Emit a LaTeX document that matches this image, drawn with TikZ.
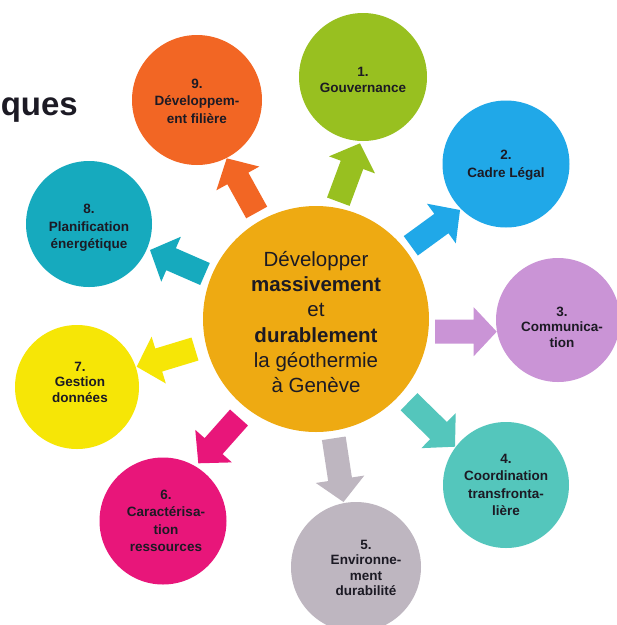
\documentclass[tikz,border=0pt]{standalone}
\usepackage{fontspec}
\setmainfont{Liberation Sans}
\usetikzlibrary{calc}
\definecolor{cOrange}{RGB}{242,102,36}
\definecolor{cGreen}{RGB}{152,192,32}
\definecolor{cBlue}{RGB}{32,168,232}
\definecolor{cPurple}{RGB}{202,148,214}
\definecolor{cTeal}{RGB}{84,198,188}
\definecolor{cGray}{RGB}{190,182,192}
\definecolor{cPink}{RGB}{232,22,122}
\definecolor{cYellow}{RGB}{246,230,6}
\definecolor{cCyan}{RGB}{22,170,190}
\definecolor{cCenter}{RGB}{238,170,18}
\definecolor{txt}{RGB}{28,26,36}
\def\sw{12pt}
\def\hw{24.5pt}
\def\hl{23pt}
\newcommand\blockarrow[3]{%
  \fill[#1] ($(#2)!\sw!90:(#3)$) -- ($(#3)!\hl!(#2)!\sw!-90:(#2)$) --
    ($(#3)!\hl!(#2)!\hw!-90:(#2)$) -- (#3) --
    ($(#3)!\hl!(#2)!\hw!90:(#2)$) -- ($(#3)!\hl!(#2)!\sw!90:(#2)$) --
    ($(#2)!\sw!-90:(#3)$) -- cycle;}
\begin{document}
\begin{tikzpicture}[x=1pt,y=-1pt,
  disc/.style={circle, draw=none, inner sep=0pt, minimum size=#1},
  lab/.style={align=center, text=txt, inner sep=0pt,
    font=\bfseries\fontsize{13.5}{15.5}\selectfont},
  widelab/.style={lab, font=\bfseries\fontsize{13.5}{17.5}\selectfont},
  centerlab/.style={align=center, text=txt, inner sep=0pt,
    font=\fontsize{20.5}{25.3}\selectfont}]
\useasboundingbox (0,0) rectangle (617,625);
\clip (0,0) rectangle (617,625);
\fill[white] (0,0) rectangle (617,625);

% title fragment
\node[anchor=base east, inner sep=0pt, text=txt,
  font=\bfseries\fontsize{33}{36}\selectfont] (title) at (78,115) {ques};

% circles
\node[disc=226pt, fill=cCenter] (c0) at (316,319) {};
\node[disc=130pt, fill=cOrange] (c9) at (197,100) {};
\node[disc=128pt, fill=cGreen] (c1) at (363,77) {};
\node[disc=127pt, fill=cBlue] (c2) at (506,164) {};
\node[disc=124pt, fill=cPurple] (c3) at (558,320) {};
\node[disc=126pt, fill=cTeal] (c4) at (506,485) {};
\node[disc=130pt, fill=cGray] (c5) at (356,567) {};
\node[disc=127pt, fill=cPink] (c6) at (163,521) {};
\node[disc=124pt, fill=cYellow] (c7) at (77,387) {};
\node[disc=126pt, fill=cCyan] (c8) at (89,224) {};

% labels
\node[centerlab] (l0) at (316,322) {Développer\\\textbf{massivement}\\et\\\textbf{durablement}\\la géothermie\\à Genève};
\node[widelab] (l9) at (197,101) {9.\\Développem-\\ent filière};
\node[lab] (l1) at (363,80) {1.\\Gouvernance};
\node[widelab] (l2) at (506,165) {2.\\Cadre Légal};
\node[lab] (l3) at (562,327) {3.\\Communica-\\tion};
\node[widelab] (l4) at (506,485) {4.\\Coordination\\transfronta-\\lière};
\node[lab] (l5) at (366,568) {5.\\Environne-\\ment\\durabilité};
\node[widelab] (l6) at (166,521) {6.\\Caractérisa-\\tion\\ressources};
\node[lab] (l7) at (80,382) {7.\\Gestion\\données};
\node[widelab] (l8) at (89,228) {8.\\Planification\\énergétique};

% arrow end points
\coordinate (t9) at (256.7,212.5); \coordinate (p9) at (226.7,158.3);
\coordinate (t1) at (338.3,201.7); \coordinate (p1) at (360,143.3);
\coordinate (t2) at (410.8,245.8); \coordinate (p2) at (460,210);
\coordinate (t3) at (435,331.7);   \coordinate (p3) at (496.7,331.7);
\coordinate (t4) at (409,401.7);   \coordinate (p4) at (455,446.7);
\coordinate (t5) at (333.8,438.3); \coordinate (p5) at (343.5,502);
\coordinate (t6) at (239,417.5);   \coordinate (p6) at (198.3,463.3);
\coordinate (t7) at (195,349);     \coordinate (p7) at (136.7,366.7);
\coordinate (t8) at (205,274);     \coordinate (p8) at (150,250);

\blockarrow{cOrange}{t9}{p9}
\blockarrow{cGreen}{t1}{p1}
\blockarrow{cBlue}{t2}{p2}
\blockarrow{cPurple}{t3}{p3}
\blockarrow{cTeal}{t4}{p4}
\blockarrow{cGray}{t5}{p5}
\blockarrow{cPink}{t6}{p6}
\blockarrow{cYellow}{t7}{p7}
\blockarrow{cCyan}{t8}{p8}
\end{tikzpicture}
\end{document}
